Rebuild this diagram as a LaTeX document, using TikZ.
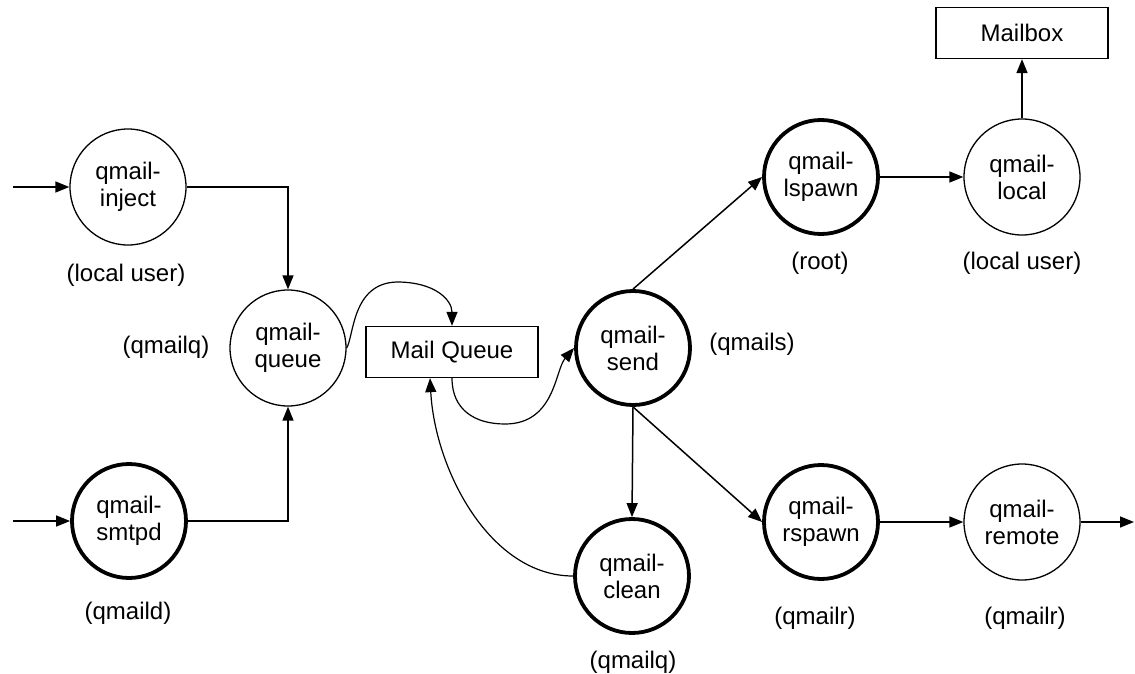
\documentclass[tikz,border=0pt]{standalone}
\usepackage{fontspec}
\setmainfont{Liberation Sans}
\usetikzlibrary{arrows.meta}
\begin{document}
\begin{tikzpicture}[x=1pt,y=-1pt,
  txt/.style={font=\fontsize{24}{27}\selectfont},
  proc/.style={txt,circle,draw,line width=1.3pt,minimum size=116pt,inner sep=0pt,align=center},
  thickproc/.style={proc,line width=3.8pt,minimum size=114pt},
  store/.style={txt,rectangle,draw,line width=1.3pt,minimum width=172pt,minimum height=51pt,inner sep=0pt},
  lbl/.style={txt,inner sep=0pt},
  flow/.style={line width=1.5pt,-{Triangle[length=14pt,width=11pt]}},
  curvy/.style={line width=1.2pt,-{Triangle[length=14pt,width=11pt]}}]
\useasboundingbox (0,0) rectangle (1135,674);

% process nodes
\node[proc] (inject) at (128,187) {qmail-\\inject};
\node[thickproc] (smtpd) at (129,521) {qmail-\\smtpd};
\node[proc] (queue) at (288,348) {qmail-\\queue};
\node[store] (box) at (452,352) {Mail Queue};
\node[thickproc] (send) at (633,348) {qmail-\\send};
\node[thickproc] (clean) at (632,576) {qmail-\\clean};
\node[thickproc] (lspawn) at (821,177) {qmail-\\lspawn};
\node[proc] (local) at (1022,177) {qmail-\\local};
\node[store] (mailbox) at (1022,33) {Mailbox};
\node[thickproc] (rspawn) at (821,522) {qmail-\\rspawn};
\node[proc] (remote) at (1022,522) {qmail-\\remote};

% user labels
\node[lbl] (l1) at (126,275) {(local user)};
\node[lbl] (l2) at (166,347) {(qmailq)};
\node[lbl] (l3) at (128,613) {(qmaild)};
\node[lbl] (l4) at (752,344) {(qmails)};
\node[lbl] (l5) at (633,662) {(qmailq)};
\node[lbl] (l6) at (820,263) {(root)};
\node[lbl] (l7) at (1022,263) {(local user)};
\node[lbl] (l8) at (815,618) {(qmailr)};
\node[lbl] (l9) at (1025,618) {(qmailr)};

% free ends
\coordinate (in1) at (13,187);
\coordinate (in2) at (13,521);
\coordinate (out1) at (1134,522);
\coordinate (boxin) at ([xshift=-22pt]box.south);

% connectors
\draw[flow] (in1) -- (inject.west);
\draw[flow] (in2) -- (smtpd.west);
\draw[flow] (inject.east) -| (queue.north);
\draw[flow] (smtpd.east) -| (queue.south);
\draw[curvy] (queue.east) .. controls (354,336) and (352,283) .. (397,282)
                          .. controls (435,282) and (452,300) .. (box.north);
\draw[curvy] (box.south) .. controls (452,410) and (475,424) .. (505,424)
                         .. controls (555,424) and (555,370) .. (send.west);
\draw[curvy] (clean.west) .. controls (490,576) and (435,470) .. (boxin);
\draw[flow] (send.south) -- (clean.north);
\draw[flow] (send.north) -- (lspawn.west);
\draw[flow] (send.south) -- (rspawn.west);
\draw[flow] (lspawn.east) -- (local.west);
\draw[flow] (local.north) -- (mailbox.south);
\draw[flow] (rspawn.east) -- (remote.west);
\draw[flow] (remote.east) -- (out1);
\end{tikzpicture}
\end{document}
